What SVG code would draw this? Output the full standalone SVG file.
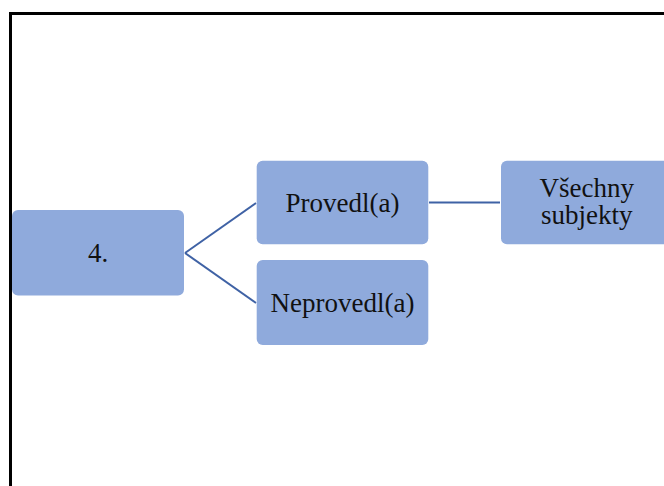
<svg xmlns="http://www.w3.org/2000/svg" width="664" height="486" viewBox="0 0 664 486">
<style>
.node rect{fill:#8FAADC;}
.node text{font-family:"Liberation Serif","Times New Roman",serif;font-size:27px;fill:#111;text-anchor:middle;}
.conn line{stroke:#3F62A5;stroke-width:2;fill:none;}
.frame{stroke:#000;stroke-width:3;fill:none;}
</style>
<rect width="664" height="486" fill="#fff"/>
<path class="frame" d="M10.5,486 V13.5 H664"/>
<g class="conn">
<line x1="185" y1="253" x2="256" y2="203"/>
<line x1="185" y1="253" x2="256" y2="303"/>
<line x1="429" y1="202.5" x2="500" y2="202.5"/>
</g>
<g id="n4" class="node">
<rect x="12" y="210" width="172" height="85.5" rx="6"/>
<text x="98" y="262">4.</text>
</g>
<g id="provedl" class="node">
<rect x="256.7" y="160.7" width="171.6" height="83.6" rx="6"/>
<text x="342.5" y="211.5">Provedl(a)</text>
</g>
<g id="neprovedl" class="node">
<rect x="256.7" y="260" width="171.6" height="85" rx="6"/>
<text x="342.5" y="311.5">Neprovedl(a)</text>
</g>
<g id="vsechny" class="node">
<rect x="501" y="160.7" width="171.6" height="83.6" rx="6"/>
<text x="586.8" y="197">Všechny</text>
<text x="586.8" y="224">subjekty</text>
</g>
</svg>
